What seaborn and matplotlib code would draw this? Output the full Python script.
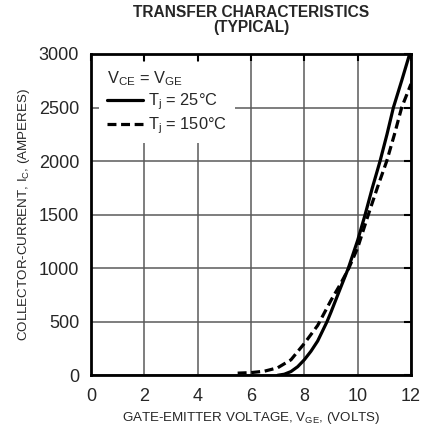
import matplotlib
matplotlib.use("Agg")
import matplotlib.pyplot as plt
import seaborn as sns
import pandas as pd

# Collector current vs gate-emitter voltage, two junction temperatures
vge_25 = [7.0, 7.25, 7.5, 7.75, 8.0, 8.25, 8.5, 8.85, 9.0, 9.3, 9.65, 10.0, 10.28, 10.55,
          10.84, 11.1, 11.34, 11.65, 11.95]
ic_25 = [0, 10, 35, 80, 145, 225, 320, 500, 590, 780, 1000, 1260, 1500, 1750,
         2000, 2250, 2500, 2750, 3000]

vge_150 = [5.5, 6.0, 6.5, 7.0, 7.5, 8.0, 8.5, 9.0, 9.35, 9.65, 10.0, 10.4, 10.75,
           11.09, 11.38, 11.65, 12.0]
ic_150 = [20, 25, 38, 70, 145, 297, 465, 700, 850, 990, 1190, 1500, 1760,
          2000, 2250, 2500, 2720]

x_ticks = [0, 2, 4, 6, 8, 10, 12]
y_ticks = [0, 500, 1000, 1500, 2000, 2500, 3000]

label_25 = "T$_\\mathregular{j}$ = 25°C"
label_150 = "T$_\\mathregular{j}$ = 150°C"

df = pd.concat([
    pd.DataFrame({"vge": vge_25, "ic": ic_25, "tj": label_25}),
    pd.DataFrame({"vge": vge_150, "ic": ic_150, "tj": label_150}),
], ignore_index=True)

sns.set_style("white")
plt.rcParams["font.family"] = ["Liberation Sans", "DejaVu Sans"]
plt.rcParams["mathtext.fontset"] = "custom"
plt.rcParams["mathtext.rm"] = "Liberation Sans"
plt.rcParams["mathtext.it"] = "Liberation Sans"

fig = plt.figure(figsize=(4.37, 4.29), dpi=100)
ax = fig.add_axes([0.2082, 0.1252, 0.7323, 0.7490])

sns.lineplot(data=df, x="vge", y="ic", hue="tj", style="tj",
             palette=["black", "black"],
             dashes={label_25: "", label_150: (2.8, 1.45)},
             linewidth=2.3, sort=False, estimator=None, ax=ax)

ax.set_xlim(0, 12)
ax.set_ylim(0, 3000)
ax.set_xticks(x_ticks)
ax.set_yticks(y_ticks)
ax.grid(True, color="#5a5a5a", linewidth=1.1)
ax.set_axisbelow(True)
for s in ax.spines.values():
    s.set_color("black")
    s.set_linewidth(2.0)
ax.tick_params(direction="in", length=5, width=1.5, color="black",
               top=True, right=True, labelsize=13)
ax.tick_params(axis="x", pad=9)
ax.tick_params(axis="y", pad=8.5)

ax.set_xlabel("GATE-EMITTER VOLTAGE, V$_{\\mathregular{GE}}$, (VOLTS)", fontsize=9.6, labelpad=4)
ax.set_ylabel("COLLECTOR-CURRENT, I$_{\\mathregular{C}}$, (AMPERES)", fontsize=9.6, labelpad=5)
ax.set_title("TRANSFER CHARACTERISTICS\n(TYPICAL)", fontsize=11.2, fontweight="bold",
             linespacing=0.95, pad=16)

leg = ax.legend(title="V$_{\\mathregular{CE}}$ = V$_{\\mathregular{GE}}$", loc="upper left",
                fontsize=11.8, title_fontsize=11.8, frameon=True, fancybox=False,
                handlelength=2.2, handletextpad=0.35, labelspacing=0.2,
                borderpad=0.45, borderaxespad=0.5)
leg.get_frame().set_facecolor("white")
leg.get_frame().set_edgecolor("none")
leg.get_frame().set_alpha(1)
leg._legend_box.align = "left"

fig.savefig("out.png", dpi=100)
